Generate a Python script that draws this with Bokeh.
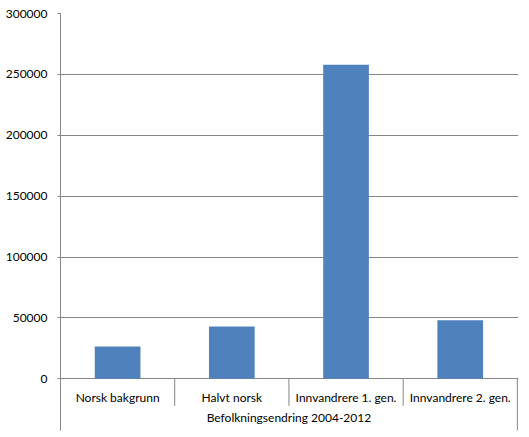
from bokeh.plotting import figure
from bokeh.models import Range1d, FixedTicker, ColumnDataSource
from bokeh.core.properties import value
from bokeh.embed import file_html
from bokeh.resources import INLINE
import numpy as np

categories = ["Norsk bakgrunn", "Halvt norsk", "Innvandrere 1. gen.", "Innvandrere 2. gen."]
values = [26500, 43000, 258000, 48000]
group_label = "Befolkningsendring 2004-2012"
y_ticks = [0, 50000, 100000, 150000, 200000, 250000, 300000]
y_tick_labels = ["0", "50000", "100000", "150000", "200000", "250000", "300000"]

FONT = "Lato"
FS = "12px"
GRID = "#868686"
BAR = "#4F81BD"

n = len(categories)
y_end = 300000
y_start = -42460
sep_depth = -22200

p = figure(width=529, height=437, output_backend="svg", toolbar_location=None,
           x_range=Range1d(0, n + 0.01), y_range=Range1d(y_start, y_end),
           x_axis_location=None, min_border_left=60, min_border_right=11,
           min_border_top=13, min_border_bottom=7)
p.outline_line_color = None
p.xgrid.visible = False
p.ygrid.ticker = FixedTicker(ticks=y_ticks)
p.ygrid.grid_line_color = GRID
p.ygrid.grid_line_width = 1

ax = p.yaxis[0]
ax.ticker = FixedTicker(ticks=y_ticks)
ax.major_label_overrides = {t: l for t, l in zip(y_ticks, y_tick_labels)}
ax.axis_line_color = GRID
ax.major_tick_line_color = GRID
ax.major_tick_out = 3
ax.major_tick_in = 0
ax.minor_tick_line_color = None
ax.major_label_text_font = FONT
ax.major_label_text_font_size = FS
ax.major_label_text_color = "#000000"
ax.major_label_standoff = 10

centers = np.arange(n) + 0.5
src = ColumnDataSource(dict(x=centers, top=values, cat=categories))
p.vbar(x="x", top="top", width=0.4, bottom=0, source=src, fill_color=BAR, line_color=None)

# category separators
bounds = np.arange(n + 1)
y1 = [y_start if (b == 0 or b == n) else sep_depth for b in bounds]
p.segment(x0=bounds, x1=bounds, y0=[0] * len(bounds), y1=y1, line_color=GRID, line_width=1)

p.text(x="x", y=0, text="cat", source=src, y_offset=19, text_align="center",
       text_baseline="middle", text_font=value(FONT), text_font_size=FS, text_color="#000000")
p.text(x=[n / 2], y=[0], text=[group_label], y_offset=39, text_align="center",
       text_baseline="middle", text_font=value(FONT), text_font_size=FS, text_color="#000000")

open("out.html", "w").write(file_html(p, INLINE))
